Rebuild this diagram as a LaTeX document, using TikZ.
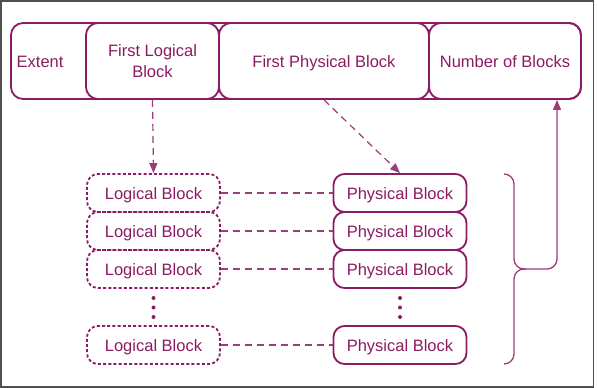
\documentclass[tikz,border=0pt]{standalone}
\usepackage{fontspec}
\setmainfont{Liberation Sans}
\usetikzlibrary{arrows.meta,calc}
\definecolor{plum}{RGB}{139,27,98}
\definecolor{frame}{RGB}{80,80,80}
\begin{document}
\begin{tikzpicture}[x=1pt,y=-1pt,
  txt/.style={text=plum, font=\fontsize{16.5}{21}\selectfont},
  oneline/.style={text height=12pt, text depth=0pt},
  box/.style={txt, draw=plum, line width=1.8pt, rounded corners=12pt, inner sep=0pt, align=center, minimum height=76pt},
  lbox/.style={txt, oneline, draw=plum, line width=1.8pt, rounded corners=11pt, inner sep=0pt, minimum width=133pt, minimum height=38pt, dash pattern=on 3pt off 2.2pt},
  pbox/.style={txt, oneline, draw=plum, line width=1.8pt, rounded corners=11pt, inner sep=0pt, minimum width=133pt, minimum height=38pt},
  link/.style={draw=plum!85, line width=1.2pt, dash pattern=on 7pt off 5pt},
  tip/.style={-{Triangle[length=10pt,width=8pt]}},
  brace/.style={draw=plum!85, line width=1.3pt, rounded corners=10pt},
  dot/.style={fill=plum}
]
\useasboundingbox (0,0) rectangle (597,388);
\draw[frame, line width=1.5pt] (1,1) rectangle (593.5,387);

% extent record
\node[box, minimum width=570pt] (extent) at (296,61) {};
\node[txt, oneline, anchor=west, inner sep=0pt] (extentlabel) at (16.5,61) {Extent};
\node[box, minimum width=133pt] (flb) at (152.5,61) {First Logical\\Block};
\node[box, oneline, minimum width=210pt] (fpb) at (324,61) {First Physical Block};
\node[box, oneline, minimum width=152pt] (nb) at (505,61) {Number of Blocks};

% logical / physical block pairs
\foreach \i/\y in {1/193,2/231,3/269,4/345} {
  \node[lbox] (lb\i) at (153.5,\y) {Logical Block};
  \node[pbox] (pb\i) at (400,\y) {Physical Block};
  \draw[link] (lb\i) -- (pb\i);
}

% vertical ellipses
\foreach \y in {298,307.5,317} {
  \fill[dot] (153.5,\y) circle (2pt);
  \fill[dot] (400,\y) circle (2pt);
}

% pointers from the extent
\draw[link, tip] (flb.south) -- (lb1.north);
\draw[link, tip] (fpb.south) -- (pb1.north);

% brace over the physical blocks, leading to the block count
\coordinate (bt) at (504,174);
\coordinate (bb) at (504,364);
\coordinate (bm) at (514,269);
\coordinate (bend) at (557,269);
\draw[brace, tip] (bt) -- (bt -| bm) -- (bm) -- (bend) -- (nb.south -| bend);
\draw[brace] ($(bm)+(12,0)$) -- (bm) -- (bb -| bm) -- (bb);
\end{tikzpicture}
\end{document}
